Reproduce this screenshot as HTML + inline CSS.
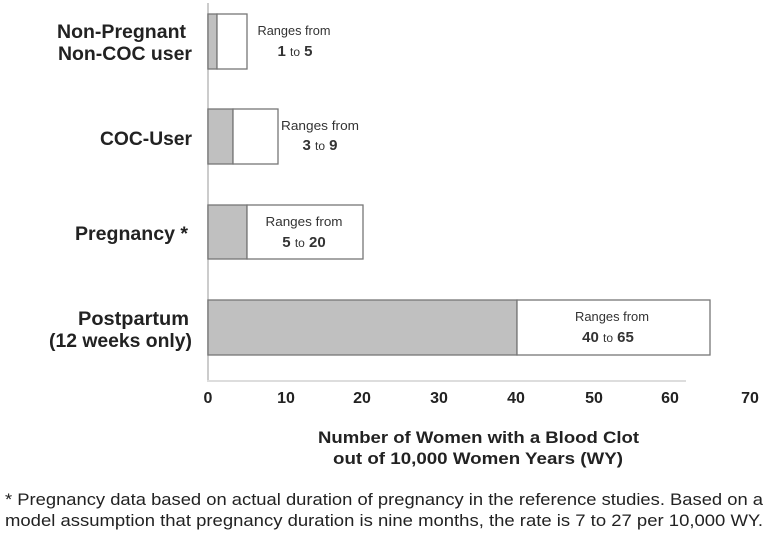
<!DOCTYPE html>
<html><head><style>
body{margin:0;background:#fff;width:769px;height:536px;overflow:hidden;font-family:"Liberation Sans",Arial,sans-serif;}
svg text{font-family:"Liberation Sans",Arial,sans-serif;}
</style></head><body>
<svg width="769" height="536" xmlns="http://www.w3.org/2000/svg">
<line x1="208" y1="3" x2="208" y2="381" stroke="#ccc" stroke-width="2"/>
<line x1="207" y1="381" x2="686" y2="381" stroke="#ddd" stroke-width="2"/>
<g stroke="#777" stroke-width="1.3">
<rect x="208" y="14" width="9" height="55" fill="#c0c0c0"/><rect x="217" y="14" width="30" height="55" fill="#fff"/>
<rect x="208" y="109" width="25" height="55" fill="#c0c0c0"/><rect x="233" y="109" width="45" height="55" fill="#fff"/>
<rect x="208" y="205" width="39" height="54" fill="#c0c0c0"/><rect x="247" y="205" width="116" height="54" fill="#fff"/>
<rect x="208" y="300" width="309" height="55" fill="#c0c0c0"/><rect x="517" y="300" width="193" height="55" fill="#fff"/>
</g>
<g font-weight="bold" font-size="19.5" fill="#222" text-anchor="end" lengthAdjust="spacingAndGlyphs">
<text x="186" y="38" textLength="129" lengthAdjust="spacingAndGlyphs">Non-Pregnant</text><text x="192" y="60" textLength="134" lengthAdjust="spacingAndGlyphs">Non-COC user</text>
<text x="192" y="145" textLength="92" lengthAdjust="spacingAndGlyphs">COC-User</text>
<text x="188" y="240" textLength="113" lengthAdjust="spacingAndGlyphs">Pregnancy *</text>
<text x="189" y="325" textLength="111" lengthAdjust="spacingAndGlyphs">Postpartum</text><text x="192" y="347" textLength="143" lengthAdjust="spacingAndGlyphs">(12 weeks only)</text>
</g>
<g font-size="13" fill="#333" text-anchor="middle">
<text x="294" y="35" textLength="73" lengthAdjust="spacingAndGlyphs">Ranges from</text><text x="295" y="56" font-size="15"><tspan font-weight="bold">1</tspan> <tspan font-size="12">to</tspan> <tspan font-weight="bold">5</tspan></text>
<text x="320" y="130" textLength="78" lengthAdjust="spacingAndGlyphs">Ranges from</text><text x="320" y="150" font-size="15"><tspan font-weight="bold">3</tspan> <tspan font-size="12">to</tspan> <tspan font-weight="bold">9</tspan></text>
<text x="304" y="226" textLength="77" lengthAdjust="spacingAndGlyphs">Ranges from</text><text x="304" y="247" font-size="15"><tspan font-weight="bold">5</tspan>  <tspan font-size="12">to</tspan>  <tspan font-weight="bold">20</tspan></text>
<text x="612" y="321" textLength="74" lengthAdjust="spacingAndGlyphs">Ranges from</text><text x="608" y="342" font-size="15"><tspan font-weight="bold">40</tspan>  <tspan font-size="12">to</tspan>  <tspan font-weight="bold">65</tspan></text>
</g>
<g font-weight="bold" font-size="16" fill="#222" text-anchor="middle">
<text x="208" y="403">0</text><text x="286" y="403">10</text><text x="362" y="403">20</text><text x="439" y="403">30</text><text x="516" y="403">40</text><text x="594" y="403">50</text><text x="670" y="403">60</text><text x="750" y="403">70</text>
</g>
<g font-weight="bold" font-size="16.5" fill="#222">
<text x="318" y="443" textLength="321" lengthAdjust="spacingAndGlyphs">Number of Women with a  Blood Clot</text>
<text x="333" y="464" textLength="290" lengthAdjust="spacingAndGlyphs">out of  10,000 Women Years (WY)</text>
</g>
<g font-size="17" fill="#222">
<text x="5" y="505" textLength="758" lengthAdjust="spacingAndGlyphs">* Pregnancy data based on actual duration of pregnancy in the reference studies. Based on a</text>
<text x="5" y="526" textLength="758" lengthAdjust="spacingAndGlyphs">model assumption that pregnancy duration is nine months, the rate is 7 to 27 per 10,000 WY.</text>
</g>
</svg>
</body></html>
